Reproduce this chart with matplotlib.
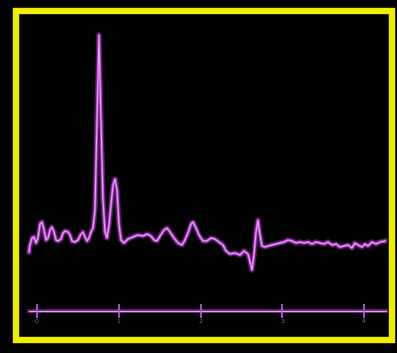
import numpy as np
import matplotlib
matplotlib.use("Agg")
import matplotlib.pyplot as plt
from matplotlib.patches import Rectangle

# spectrum trace (position on scale, intensity)
shift = [-0.098, -0.086, -0.061, -0.037, -0.012, 0.012, 0.037, 0.061, 0.086, 0.110,
         0.135, 0.159, 0.183, 0.208, 0.232, 0.257, 0.294, 0.318, 0.343, 0.379,
         0.404, 0.428, 0.465, 0.502, 0.538, 0.563, 0.587, 0.612, 0.636, 0.661,
         0.685, 0.709, 0.734, 0.758, 0.783, 0.807, 0.832, 0.856, 0.881, 0.905,
         0.930, 0.954, 0.979, 1.003, 1.028, 1.064, 1.113, 1.174, 1.235, 1.297,
         1.346, 1.394, 1.431, 1.468, 1.505, 1.554, 1.590, 1.627, 1.676, 1.725,
         1.774, 1.810, 1.847, 1.884, 1.908, 1.945, 1.982, 2.031, 2.080, 2.128,
         2.177, 2.226, 2.275, 2.312, 2.361, 2.422, 2.483, 2.532, 2.581, 2.606,
         2.630, 2.654, 2.679, 2.703, 2.728, 2.752, 2.789, 2.826, 2.875, 2.924,
         2.972, 3.021, 3.070, 3.119, 3.168, 3.217, 3.266, 3.315, 3.364, 3.413,
         3.462, 3.511, 3.560, 3.609, 3.657, 3.706, 3.755, 3.804, 3.853, 3.890,
         3.927, 3.976, 4.012, 4.049, 4.098, 4.147, 4.196, 4.257]
intensity = [-12, -5, 2, 3, -3, 2, 16, 18, 10, 0,
             2, 10, 13, 8, 0, -1, 1, 7, 9, 8,
             5, -1, -2, 0, 6, 8, 3, -1, 2, 8,
             12, 30, 120, 205, 120, 40, 8, 2, 15, 35,
             55, 61, 50, 15, 0, -3, 1, 3, 5, 4,
             6, 4, 0, -1, 4, 10, 12, 8, 2, -3,
             -5, 0, 7, 16, 18, 12, 5, -1, -1, 2,
             1, -2, -5, -11, -14, -13, -15, -11, -14, -22,
             -30, -15, 8, 20, 5, -6, -7, -6, -5, -4,
             -3, -2, 0, -1, -3, -2, -3, -2, -4, -2,
             -3, -4, -2, -5, -4, -7, -6, -5, -8, -3,
             -5, -7, -4, -6, -2, -4, -2, -1]

tick_pos = [0, 1, 2, 3, 4]
tick_labels = ["0", "1", "2", "3", "4"]

fig = plt.figure(figsize=(3.97, 3.53), dpi=100, facecolor="black")
ax = fig.add_axes([0, 0, 1, 1])
ax.set_facecolor("black")
ax.set_xlim(-37 / 81.75, 360 / 81.75)
ax.set_ylim(-113, 240)
ax.axis("off")

# soft glow + bright core for the trace
ax.plot(shift, intensity, color="#8a2aa0", lw=4.0, alpha=0.55, solid_joinstyle="round")
ax.plot(shift, intensity, color="#b84fd0", lw=2.0, alpha=0.9, solid_joinstyle="round")
ax.plot(shift, intensity, color="#eaa0f4", lw=0.8, solid_joinstyle="round")

# scale line with ticks
ax.plot([-0.10, 4.27], [-71, -71], color="#8a2aa0", lw=2.8, alpha=0.7)
ax.plot([-0.10, 4.27], [-71, -71], color="#e6a6f0", lw=0.9)
for t, lab in zip(tick_pos, tick_labels):
    ax.plot([t, t], [-65, -77], color="#b060c8", lw=1.4, alpha=0.9)
    ax.text(t, -79, lab, color="#a858c0", fontsize=4.5, ha="center", va="top")

# yellow frame
fig.patches.append(Rectangle((16 / 397, 1 - 340 / 353), 376 / 397, 329 / 353,
                             transform=fig.transFigure, fill=False,
                             edgecolor="#eeee00", lw=4.6))

fig.savefig("out.png", dpi=100, facecolor="black")
